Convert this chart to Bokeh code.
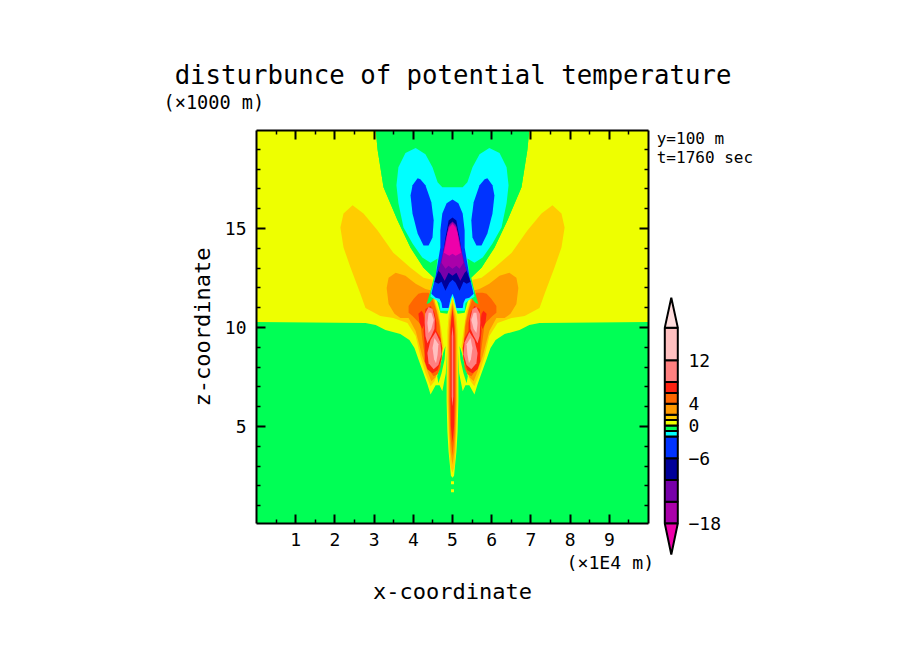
from bokeh.plotting import figure
from bokeh.layouts import row, column
from bokeh.core.properties import value
from bokeh.models import Range1d, LinearAxis, FixedTicker, Label
from bokeh.embed import file_html
from bokeh.resources import INLINE

FONT = "DejaVu Sans Mono"

# ----- colours per contour band -----
GREEN = "#00ff55"; YELLOW = "#eeff00"; AMBER = "#ffcc00"; ORANGE = "#ff9900"; DKORANGE = "#ff6600"
RED = "#ff2211"; SALMON = "#ff8080"; PINK = "#ffc0c0"; TIP_HIGH = "#ffdddd"
CYAN = "#00ffff"; BLUE = "#0033ff"; NAVY = "#000099"; PURPLE = "#7700aa"; PURMAG = "#aa00aa"; MAGENTA = "#ee00aa"

# ----- colour bar -----
bar_levels = [-18, -14, -10, -6, -2, -1, 0, 1, 2, 4, 6, 8, 12, 18]
bar_colors = [PURMAG, PURPLE, NAVY, BLUE, CYAN, GREEN, YELLOW, AMBER, ORANGE, DKORANGE, RED, SALMON, PINK]
bar_ticks = [-18, -6, 0, 4, 12]
bar_tick_labels = ["\u221218", "\u22126", "0", "4", "12"]
bar_tip_top = [18, 18, 23.5]
bar_tip_bottom = [-18, -18, -23.7]
bar_tip_x = [0, 1, 0.5]

# ----- axis ticks -----
x_major = [1, 2, 3, 4, 5, 6, 7, 8, 9]
x_minor = [0.5, 1.5, 2.5, 3.5, 4.5, 5.5, 6.5, 7.5, 8.5, 9.5]
z_major = [5, 10, 15]
z_minor = [1, 2, 3, 4, 6, 7, 8, 9, 11, 12, 13, 14, 16, 17, 18, 19]

# ----- contour outlines, x in 1E4 m, z in 1000 m (left half of a symmetric field) -----
yellow_x = [0, 3.04, 3.09, 3.24, 3.60, 3.93, 4.26, 4.54, 5, 5, 4.87, 4.86, 4.83, 4.74, 4.67, 4.57, 4.44, 4.36, 4.26, 4.13, 4.03, 3.90, 3.67, 3.29, 3.04, 2.78, 0]
yellow_z = [20, 20, 18.96, 17.08, 15.41, 14.03, 13.02, 12.51, 12.51, 9.82, 10.33, 8.81, 7.69, 6.78, 7.08, 7.08, 6.62, 7.13, 7.69, 8.40, 8.96, 9.37, 9.67, 9.87, 10.13, 10.23, 10.28]
sliver_x = [4.64, 4.72, 4.80, 4.82, 4.76, 4.70, 4.61]
sliver_z = [7.18, 7.69, 8.40, 9.06, 8.71, 8.20, 7.54]
amber_x = [2.45, 2.22, 2.14, 2.22, 2.40, 2.65, 2.78, 3.16, 3.49, 3.85, 4.06, 4.18, 4.31, 4.44, 4.54, 4.64, 4.72, 4.77, 4.72, 4.64, 4.54, 4.49, 4.26, 3.93, 3.49, 3.09, 2.73]
amber_z = [16.17, 15.76, 15.05, 14.04, 13.02, 11.70, 10.99, 10.58, 10.48, 10.23, 9.57, 8.55, 7.69, 7.03, 7.28, 7.79, 8.40, 9.06, 9.82, 10.84, 11.35, 12.41, 12.51, 13.02, 13.78, 14.90, 15.76]
orange_x = [3.55, 3.37, 3.32, 3.37, 3.52, 3.67, 3.88, 4.06, 4.23, 4.36, 4.46, 4.57, 4.69, 4.72, 4.67, 4.57, 4.49, 4.31, 4.06, 3.80]
orange_z = [12.77, 12.51, 12.0, 11.19, 10.69, 10.48, 10.48, 9.82, 8.55, 7.79, 7.28, 7.49, 8.55, 9.31, 10.33, 11.09, 11.85, 11.95, 12.21, 12.61]
dkorange_x = [4.13, 4.01, 3.88, 3.88, 3.98, 4.18, 4.26, 4.36, 4.52, 4.62, 4.69, 4.73, 4.69, 4.67, 4.59, 4.49, 4.39, 4.23]
dkorange_z = [11.70, 11.45, 11.09, 10.74, 10.58, 10.18, 8.96, 7.94, 7.54, 7.64, 7.94, 8.81, 9.57, 10.08, 10.84, 11.45, 11.75, 11.75]
red_patch_x = [4.13, 4.21, 4.26, 4.29, 4.23, 4.16]
red_patch_z = [10.69, 10.84, 10.69, 10.18, 9.92, 10.23]
red_ring_x = [4.31, 4.44, 4.54, 4.59, 4.59, 4.69, 4.74, 4.72, 4.62, 4.49, 4.36, 4.29, 4.29, 4.26]
red_ring_z = [10.94, 11.09, 10.74, 10.23, 9.82, 9.47, 8.96, 8.40, 7.84, 7.69, 7.89, 8.30, 9.16, 9.82]
salmon_up_x = [4.30, 4.39, 4.49, 4.55, 4.54, 4.46, 4.36, 4.31, 4.29]
salmon_up_z = [10.69, 11.04, 10.94, 10.43, 9.92, 9.57, 9.21, 9.57, 10.23]
salmon_low_x = [4.57, 4.44, 4.36, 4.39, 4.52, 4.64, 4.72, 4.69]
salmon_low_z = [9.77, 9.37, 8.71, 8.20, 7.89, 8.10, 8.65, 9.26]
pink_up_x = [4.39, 4.46, 4.52, 4.46, 4.39, 4.36]
pink_up_z = [10.74, 10.74, 10.38, 9.92, 9.72, 10.23]
pink_low_x = [4.54, 4.49, 4.53, 4.58, 4.62, 4.64]
pink_low_z = [9.47, 8.96, 8.40, 8.20, 8.65, 9.16]
blue_lobe_x = [4.11, 3.98, 3.93, 3.98, 4.11, 4.26, 4.39, 4.49, 4.52, 4.46, 4.31, 4.18]
blue_lobe_z = [17.54, 17.18, 16.67, 15.76, 14.75, 14.14, 14.14, 14.54, 15.41, 16.32, 17.18, 17.49]

plume_x = [3.04, 3.09, 3.24, 3.60, 3.93, 4.26, 4.52, 4.46, 4.34, 4.41, 4.57, 4.69, 4.87, 4.95, 5]
plume_z = [20, 18.96, 17.08, 15.41, 14.03, 13.02, 12.51, 12.0, 11.19, 11.24, 11.60, 10.74, 10.69, 11.19, 11.55]
cyan_x = [5, 4.74, 4.62, 4.49, 4.31, 4.06, 3.80, 3.62, 3.57, 3.62, 3.75, 3.98, 4.23, 4.44, 4.62, 4.57, 4.46, 4.44, 4.57, 4.67, 4.69, 4.92, 4.97, 5]
cyan_z = [17.08, 17.08, 17.33, 18.09, 18.75, 19.06, 18.81, 18.09, 17.18, 16.27, 15.05, 14.24, 13.53, 13.27, 13.48, 12.61, 11.85, 11.55, 11.40, 11.24, 10.84, 10.84, 11.35, 11.55]
tower_x = [5, 4.85, 4.74, 4.69, 4.69, 4.62, 4.57, 4.52, 4.46, 4.57, 4.67, 4.72, 4.74, 4.90, 4.95, 5]
tower_z = [16.47, 16.27, 15.76, 14.90, 14.04, 13.22, 12.61, 12.21, 11.70, 11.50, 11.45, 11.24, 10.99, 10.99, 11.45, 11.70]
navy_x = [5, 4.90, 4.87, 4.82, 4.77, 4.74, 4.67, 4.62, 4.54, 4.64, 4.72, 4.82, 4.92, 5]
navy_z = [15.56, 15.41, 15.05, 14.54, 13.88, 13.38, 13.02, 12.77, 12.31, 12.21, 12.31, 11.85, 12.26, 12.41]
purple_x = [5, 4.92, 4.82, 4.74, 4.69, 4.64, 4.69, 4.80, 4.90, 5]
purple_z = [15.35, 15.20, 14.39, 13.63, 13.22, 12.87, 12.77, 12.36, 12.77, 12.61]
purmag_x = [5, 4.90, 4.83, 4.75, 4.72, 4.82, 4.90, 5]
purmag_z = [15.30, 15.10, 14.39, 13.63, 13.27, 12.97, 13.12, 12.97]
magenta_x = [5, 4.92, 4.87, 4.83, 4.78, 4.87, 4.92, 5]
magenta_z = [15.23, 15.05, 14.75, 14.24, 13.78, 13.68, 13.63, 13.73]

col_yellow_x = [5, 4.95, 4.87, 4.85, 4.85, 4.87, 4.90, 4.94, 4.96, 5]
col_yellow_z = [11.55, 11.24, 10.63, 9.82, 6.27, 4.75, 3.73, 2.92, 2.51, 2.41]
col_amber_x = [5, 4.97, 4.90, 4.87, 4.87, 4.90, 4.92, 4.95, 5]
col_amber_z = [11.40, 11.14, 10.58, 9.82, 6.27, 4.75, 3.73, 2.97, 2.66]
col_orange_x = [5, 4.97, 4.92, 4.90, 4.90, 4.92, 4.95, 5]
col_orange_z = [11.24, 10.94, 10.33, 9.57, 6.27, 4.75, 3.73, 3.07]
col_dkorange_x = [5, 4.97, 4.94, 4.92, 4.92, 4.95, 5]
col_dkorange_z = [11.09, 10.58, 10.08, 9.31, 6.27, 4.49, 3.53]
col_red_x = [5, 4.97, 4.95, 4.95, 4.96, 5]
col_red_z = [10.94, 10.43, 9.82, 6.27, 5.0, 4.19]
col_salmon_x = [5, 4.98, 4.98, 5]
col_salmon_z = [10.08, 9.57, 6.53, 6.02]
dot_x = [5, 5]
dot_z = [2.16, 1.75]

frame_x = [0, 10, 10, 0]
frame_z = [0, 0, 20, 20]

# ----- header strip carrying the title across the full page width -----
HEADER_H = 90
header = figure(width=888, height=HEADER_H, output_backend="svg", toolbar_location=None,
                x_axis_location=None, y_axis_location=None,
                x_range=Range1d(0, 1), y_range=Range1d(0, 1),
                min_border_left=17, min_border_right=0, min_border_top=HEADER_H - 1, min_border_bottom=0,
                background_fill_color="white", border_fill_color="white", outline_line_color=None)
header.grid.visible = False
header.title.text = "disturbunce of potential temperature"
header.title.align = "center"
header.title.text_font = FONT
header.title.text_font_size = "25.7px"
header.title.text_font_style = "normal"
header.title.text_color = "black"
header.title.standoff = 0

# ----- main figure -----
Z_LOW, Z_HIGH = 0.10, 19.95
p = figure(width=656, height=638 - HEADER_H, output_backend="svg", toolbar_location=None,
           x_range=Range1d(0, 10), y_range=Range1d(Z_LOW, Z_HIGH),
           min_border_left=256, min_border_right=8, min_border_top=130 - HEADER_H, min_border_bottom=115,
           background_fill_color="white", border_fill_color="white", outline_line_color=None,
           x_axis_label="x-coordinate", y_axis_label="z-coordinate")
p.grid.visible = False


def mirror(xs):
    return [10 - v for v in xs]


xs, zs, cs = [frame_x], [frame_z], [GREEN]


def both(x, z, c):
    xs.extend([x, mirror(x)]); zs.extend([z, z]); cs.extend([c, c])


def sym(x, z, c):
    xs.append(x + mirror(x)[::-1]); zs.append(z + z[::-1]); cs.append(c)


both(yellow_x, yellow_z, YELLOW)
both(sliver_x, sliver_z, GREEN)
both(amber_x, amber_z, AMBER)
both(orange_x, orange_z, ORANGE)
both(dkorange_x, dkorange_z, DKORANGE)
both(red_patch_x, red_patch_z, RED)
both(red_ring_x, red_ring_z, RED)
both(salmon_up_x, salmon_up_z, SALMON)
both(salmon_low_x, salmon_low_z, SALMON)
both(pink_up_x, pink_up_z, PINK)
both(pink_low_x, pink_low_z, PINK)
sym(plume_x, plume_z, GREEN)
sym(cyan_x, cyan_z, CYAN)
both(blue_lobe_x, blue_lobe_z, BLUE)
sym(tower_x, tower_z, BLUE)
sym(navy_x, navy_z, NAVY)
sym(purple_x, purple_z, PURPLE)
sym(purmag_x, purmag_z, PURMAG)
sym(magenta_x, magenta_z, MAGENTA)
sym(col_yellow_x, col_yellow_z, YELLOW)
sym(col_amber_x, col_amber_z, AMBER)
sym(col_orange_x, col_orange_z, ORANGE)
sym(col_dkorange_x, col_dkorange_z, DKORANGE)
sym(col_red_x, col_red_z, RED)
sym(col_salmon_x, col_salmon_z, SALMON)

p.patches(xs, zs, fill_color=cs, fill_alpha=1, line_color=None)
p.scatter(dot_x, dot_z, marker="square", size=3, fill_color=YELLOW, line_color=None)

# ----- axes -----
xt = FixedTicker(ticks=x_major, minor_ticks=x_minor)
zt = FixedTicker(ticks=z_major, minor_ticks=z_minor)
top = LinearAxis(ticker=xt, major_label_overrides={v: "" for v in x_major})
right = LinearAxis(ticker=zt, major_label_overrides={v: "" for v in z_major})
p.add_layout(top, "above")
p.add_layout(right, "right")
bottom = p.below[0]
left = p.left[0]
bottom.ticker = xt
left.ticker = zt
bottom.major_label_standoff = 9
left.major_label_standoff = 10
bottom.axis_label_standoff = 30
left.axis_label_standoff = 7
for ax in [bottom, left, top, right]:
    ax.axis_line_color = "black"
    ax.axis_line_width = 2
    ax.major_tick_in = 9
    ax.major_tick_out = 0
    ax.minor_tick_in = 4
    ax.minor_tick_out = 0
    ax.major_tick_line_color = "black"
    ax.major_tick_line_width = 2
    ax.minor_tick_line_color = "black"
    ax.minor_tick_line_width = 1.5
    ax.major_label_text_font = FONT
    ax.major_label_text_font_size = "18px"
    ax.major_label_text_color = "black"
    ax.axis_label_text_font = FONT
    ax.axis_label_text_font_size = "22px"
    ax.axis_label_text_font_style = "normal"
    ax.axis_label_text_color = "black"
top.major_label_standoff = 0
right.major_label_standoff = 0

# ----- unit labels (they live in the side panels, offsets count from the frame edge) -----
p.add_layout(Label(x=-93, y=28, x_units="screen", y_units="screen", text="(\u00d71000 m)", text_font=FONT,
                   text_font_size="18.6px", text_baseline="middle", text_align="left", text_color="black"), "above")
p.add_layout(Label(x=310, y=65, x_units="screen", y_units="screen", text="(\u00d71E4 m)", text_font=FONT,
                   text_font_size="18.2px", text_baseline="middle", text_align="left", text_color="black"), "below")

# ----- colour bar panel: 13 px per x unit, 5.44 px per level unit -----
bar = figure(width=232, height=638 - HEADER_H, output_backend="svg", toolbar_location=None,
             x_range=Range1d(-0.638, 17.208), y_range=Range1d(-24.07, 54.24),
             x_axis_location=None, y_axis_location=None,
             min_border_left=0, min_border_right=0, min_border_top=130 - HEADER_H, min_border_bottom=82,
             background_fill_color="white", border_fill_color="white", outline_line_color=None)
bar.grid.visible = False
bar.quad(left=0, right=1, bottom=bar_levels[:-1], top=bar_levels[1:], fill_color=bar_colors,
         line_color="black", line_width=2)
bar.patch(bar_tip_x, bar_tip_top, fill_color=TIP_HIGH, line_color="black", line_width=2)
bar.patch(bar_tip_x, bar_tip_bottom, fill_color=MAGENTA, line_color="black", line_width=2)
bar.text(x=[1.82] * len(bar_ticks), y=bar_ticks, text=bar_tick_labels, text_font=value(FONT),
         text_font_size="18px", text_baseline="middle", text_align="left", text_color="black")
bar.text(x=[-0.62, -0.62], y=[52.77, 49.28], text=["y=100 m", "t=1760 sec"], text_font=value(FONT),
         text_font_size="16px", text_baseline="middle", text_align="left", text_color="black")

page = column(header, row(p, column(bar, spacing=0), spacing=0), spacing=0)
open("out.html", "w").write(file_html(page, INLINE))
